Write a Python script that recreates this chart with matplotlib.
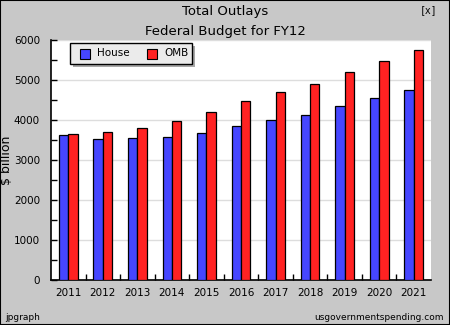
import numpy as np
import matplotlib
matplotlib.use("Agg")
import matplotlib.pyplot as plt
from matplotlib.patches import Rectangle

years = ['2011', '2012', '2013', '2014', '2015', '2016', '2017', '2018', '2019', '2020', '2021']
house = [3620, 3520, 3545, 3570, 3670, 3845, 3995, 4120, 4345, 4545, 4745]
omb = [3645, 3695, 3795, 3970, 4195, 4470, 4695, 4895, 5195, 5470, 5745]

bg = '#c8c8c8'
fig = plt.figure(figsize=(4.5, 3.25), dpi=100, facecolor=bg)
fig.patches.append(Rectangle((0, 0), 1, 1, transform=fig.transFigure,
                             fill=False, edgecolor='black', linewidth=1.5))

ax = fig.add_axes([51 / 450, 45 / 325, 380 / 450, 240 / 325])
ax.set_facecolor('white')

x = np.arange(len(years))
w = 0.27
ax.bar(x - w / 2, house, w, color='#4646ff', edgecolor='black', linewidth=0.9, label='House', zorder=3)
ax.bar(x + w / 2, omb, w, color='#ff2222', edgecolor='black', linewidth=0.9, label='OMB', zorder=3)

ax.set_xlim(-0.5, len(years) - 0.5)
ax.set_ylim(0, 6000)
ax.set_xticks(x)
ax.set_xticklabels(years)
ax.set_xticks(np.arange(0.5, len(years) - 0.5, 1), minor=True)
ax.set_yticks(np.arange(0, 6001, 1000))
ax.set_yticks(np.arange(500, 6000, 1000), minor=True)
ax.tick_params(axis='x', which='major', length=0, pad=6, labelsize=7.5)
ax.tick_params(axis='x', which='minor', direction='in', length=4, width=1)
ax.tick_params(axis='y', which='both', direction='in', length=4, width=1, labelsize=7.5, pad=8)
ax.grid(axis='y', color='#dddddd', linewidth=1, zorder=0)

for s in ['top', 'right']:
    ax.spines[s].set_visible(False)
ax.spines['left'].set_linewidth(1.2)
ax.spines['bottom'].set_linewidth(1.2)

ax.set_ylabel('$ billion', fontsize=9)
ax.yaxis.set_label_coords(-0.1, 0.5)

fig.text(0.5, 1 - 12 / 325, 'Total Outlays', ha='center', va='center', fontsize=9.5)
fig.text(0.5, 1 - 31 / 325, 'Federal Budget for FY12', ha='center', va='center', fontsize=9.5)
fig.text(437 / 450, 1 - 10 / 325, '[x]', ha='right', va='center', fontsize=7, family='DejaVu Sans Mono')
fig.text(5 / 450, 1 - 317 / 325, 'jpgraph', ha='left', va='center', fontsize=6.5)
fig.text(444 / 450, 1 - 317 / 325, 'usgovernmentspending.com', ha='right', va='center', fontsize=6.5)

# legend box with shadow
fig.patches.append(Rectangle((73 / 450, 1 - 67 / 325), 122 / 450, 21 / 325, transform=fig.transFigure,
                             facecolor='#a8a8a8', edgecolor='none', zorder=5))
fig.patches.append(Rectangle((70 / 450, 1 - 64 / 325), 122 / 450, 21 / 325, transform=fig.transFigure,
                             facecolor='#ebebeb', edgecolor='black', linewidth=1, zorder=6))
for lx, col, name in [(80, '#4646ff', 'House'), (147, '#ff2222', 'OMB')]:
    fig.patches.append(Rectangle((lx / 450, 1 - 58.5 / 325), 10 / 450, 10 / 325, transform=fig.transFigure,
                                 facecolor=col, edgecolor='black', linewidth=0.8, zorder=7))
    fig.text((lx + 17) / 450, 1 - 53.5 / 325, name, ha='left', va='center', fontsize=7.5, zorder=8)

fig.savefig('out.png', dpi=100, facecolor=bg)
